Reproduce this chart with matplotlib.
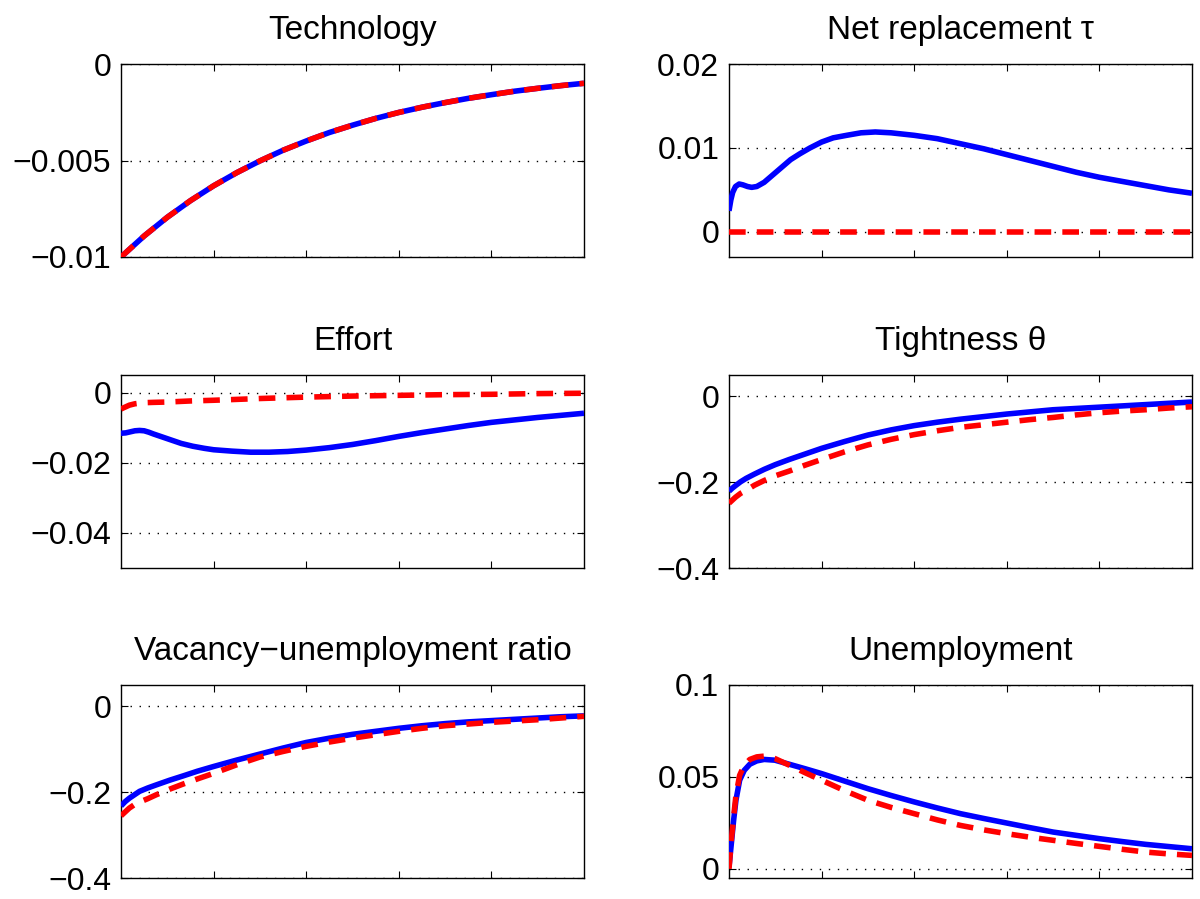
import matplotlib
matplotlib.use("Agg")
import matplotlib.pyplot as plt

plt.rcParams['font.family'] = ['Liberation Sans', 'DejaVu Sans']

# ---------------- data (x in periods, 0..100) ----------------
tech_x = [0, 5, 10, 15, 20, 25, 30, 35, 40, 45, 50, 55, 60, 65, 70, 75, 80, 85, 90, 95, 100]
tech_blue = [-0.0100, -0.00891, -0.00794, -0.00708, -0.00631, -0.00563, -0.00502, -0.00447,
             -0.00399, -0.00355, -0.00317, -0.00282, -0.00251, -0.00224, -0.00200, -0.00178,
             -0.00159, -0.00141, -0.00126, -0.00112, -0.00100]
tech_red = list(tech_blue)

tau_x = [0, 0.4, 0.8, 1.4, 2.2, 3.0, 4.0, 4.9, 6.0, 7.6, 9.5, 11.4, 13.3, 15.3, 17.5, 20,
         22.5, 25.4, 28.5, 31.6, 35, 40, 45, 50, 55, 60, 65, 70, 75, 80, 85, 90, 95, 100]
tau_blue = [0.0025, 0.0038, 0.0047, 0.0054, 0.0057, 0.0056, 0.0054, 0.0053, 0.0054, 0.0059,
            0.0068, 0.0077, 0.0086, 0.0093, 0.0100, 0.0107, 0.0112, 0.0115, 0.0118, 0.0119,
            0.0118, 0.0115, 0.0111, 0.0105, 0.0099, 0.0092, 0.0085, 0.0078, 0.0071, 0.0065,
            0.0060, 0.0055, 0.0050, 0.0046]
tau_red_x = [0, 100]
tau_red = [0.0, 0.0]

eff_x = [0, 1, 2, 3, 4, 5, 6, 7, 9, 11, 13, 15.5, 18, 20, 24, 28, 32, 36, 40, 45, 50, 55,
         60, 65, 70, 75, 80, 85, 90, 95, 100]
eff_blue = [-0.0116, -0.0115, -0.0112, -0.0109, -0.0108, -0.0109, -0.0113, -0.0118, -0.0127,
            -0.0136, -0.0145, -0.0153, -0.0159, -0.0163, -0.0167, -0.0170, -0.0170, -0.0168,
            -0.0164, -0.0157, -0.0148, -0.0137, -0.0125, -0.0114, -0.0104, -0.0094, -0.0085,
            -0.0078, -0.0071, -0.0065, -0.0059]
eff_red_x = [0, 0.8, 1.8, 3, 4.7, 7, 10, 15, 20, 30, 40, 50, 60, 70, 80, 90, 100]
eff_red = [-0.0047, -0.0042, -0.0036, -0.0032, -0.0029, -0.0028, -0.0027, -0.0024, -0.0022,
           -0.0017, -0.0013, -0.0010, -0.0008, -0.0006, -0.0005, -0.0003, -0.0002]

th_x = [0, 0.7, 1.4, 2.5, 3.7, 5.5, 7.6, 10, 13, 16.5, 20, 25, 30, 35, 40, 45, 50, 55, 60,
        65, 70, 75, 80, 85, 90, 95, 100]
th_blue = [-0.221, -0.214, -0.208, -0.199, -0.191, -0.181, -0.170, -0.159, -0.147, -0.134,
           -0.121, -0.105, -0.090, -0.078, -0.068, -0.060, -0.053, -0.047, -0.041, -0.036,
           -0.031, -0.028, -0.025, -0.022, -0.019, -0.016, -0.013]
th_red = [-0.249, -0.242, -0.235, -0.226, -0.219, -0.207, -0.196, -0.185, -0.174, -0.160,
          -0.147, -0.129, -0.113, -0.100, -0.089, -0.080, -0.072, -0.066, -0.060, -0.054,
          -0.049, -0.043, -0.038, -0.034, -0.031, -0.027, -0.024]

vu_x = [0, 0.9, 1.8, 2.9, 4, 5.8, 7.6, 10.5, 13.4, 16.5, 20, 25, 30, 35, 40, 45, 50, 55, 60,
        65, 70, 75, 80, 85, 90, 95, 100]
vu_blue = [-0.232, -0.222, -0.214, -0.206, -0.198, -0.190, -0.183, -0.172, -0.162, -0.151,
           -0.140, -0.125, -0.111, -0.097, -0.084, -0.074, -0.065, -0.058, -0.051, -0.045,
           -0.040, -0.036, -0.033, -0.030, -0.027, -0.024, -0.022]
vu_red = [-0.255, -0.246, -0.237, -0.229, -0.223, -0.215, -0.206, -0.193, -0.181, -0.169,
          -0.156, -0.136, -0.118, -0.105, -0.093, -0.083, -0.074, -0.066, -0.058, -0.051,
          -0.045, -0.041, -0.037, -0.034, -0.031, -0.027, -0.023]

un_x = [0, 0.5, 1.0, 1.5, 2.3, 3.3, 4.5, 6.0, 7.6, 9.9, 13, 16.5, 20, 25, 30, 35, 40, 45,
        50, 55, 60, 65, 70, 75, 80, 85, 90, 95, 100]
un_blue = [0.0009, 0.0136, 0.0264, 0.0373, 0.0482, 0.0536, 0.0569, 0.0587, 0.0595, 0.0591,
           0.0569, 0.0544, 0.0518, 0.0477, 0.0436, 0.0399, 0.0364, 0.0331, 0.0300, 0.0274,
           0.0249, 0.0224, 0.0200, 0.0182, 0.0164, 0.0148, 0.0133, 0.0121, 0.0109]
un_red = [0.0, 0.0155, 0.0282, 0.0400, 0.0509, 0.0564, 0.0595, 0.0609, 0.0613, 0.0600,
          0.0564, 0.0522, 0.0482, 0.0425, 0.0373, 0.0334, 0.0300, 0.0266, 0.0236, 0.0212,
          0.0191, 0.0172, 0.0155, 0.0138, 0.0122, 0.0106, 0.0091, 0.0081, 0.0073]

titles = ["Technology", "Net replacement τ", "Effort", "Tightness θ",
          "Vacancy\u2212unemployment ratio", "Unemployment"]
ylims = [(-0.01, 0.0), (-0.003, 0.02), (-0.05, 0.005), (-0.4, 0.05), (-0.4, 0.05), (-0.005, 0.1)]
yticks = [[-0.01, -0.005, 0], [0, 0.01, 0.02], [-0.04, -0.02, 0], [-0.4, -0.2, 0],
          [-0.4, -0.2, 0], [0, 0.05, 0.1]]
yticklabels = [["\u22120.01", "\u22120.005", "0"], ["0", "0.01", "0.02"],
               ["\u22120.04", "\u22120.02", "0"], ["\u22120.4", "\u22120.2", "0"],
               ["\u22120.4", "\u22120.2", "0"], ["0", "0.05", "0.1"]]
xticks = [20, 40, 60, 80]

series = [
    (tech_x, tech_blue, tech_x, tech_red),
    (tau_x, tau_blue, tau_red_x, tau_red),
    (eff_x, eff_blue, eff_red_x, eff_red),
    (th_x, th_blue, th_x, th_red),
    (vu_x, vu_blue, vu_x, vu_red),
    (un_x, un_blue, un_x, un_red),
]

fig = plt.figure(figsize=(12, 8.99), dpi=100)
lefts = [121 / 1200, 729 / 1200]
width = 463 / 1200
tops = [64, 375, 685]
height = 193 / 899

for i in range(6):
    r, c = divmod(i, 2)
    ax = fig.add_axes([lefts[c], 1 - (tops[r] + 193) / 899, width, height])
    bx, by, rx, ry = series[i]
    ax.plot(bx, by, color='#0000ff', lw=4.0, solid_capstyle='butt',
            solid_joinstyle='round', zorder=3)
    ax.plot(rx, ry, color='#ff0000', lw=4.0, linestyle=(0, (3, 2)), dash_capstyle='butt',
            zorder=4)
    ax.set_xlim(0, 100)
    ax.set_ylim(*ylims[i])
    ax.set_xticks(xticks)
    ax.set_xticklabels([])
    ax.set_yticks(yticks[i])
    ax.set_yticklabels(yticklabels[i])
    ax.yaxis.grid(True, linestyle=(0, (1, 5.5)), color='k', lw=1.0)
    ax.tick_params(direction='in', top=True, right=True, length=5, width=0.8,
                   labelsize=23, pad=7)
    for s in ax.spines.values():
        s.set_linewidth(1.0)
    ax.set_title(titles[i], fontsize=24, pad=18)

fig.savefig("out.png", dpi=100)
